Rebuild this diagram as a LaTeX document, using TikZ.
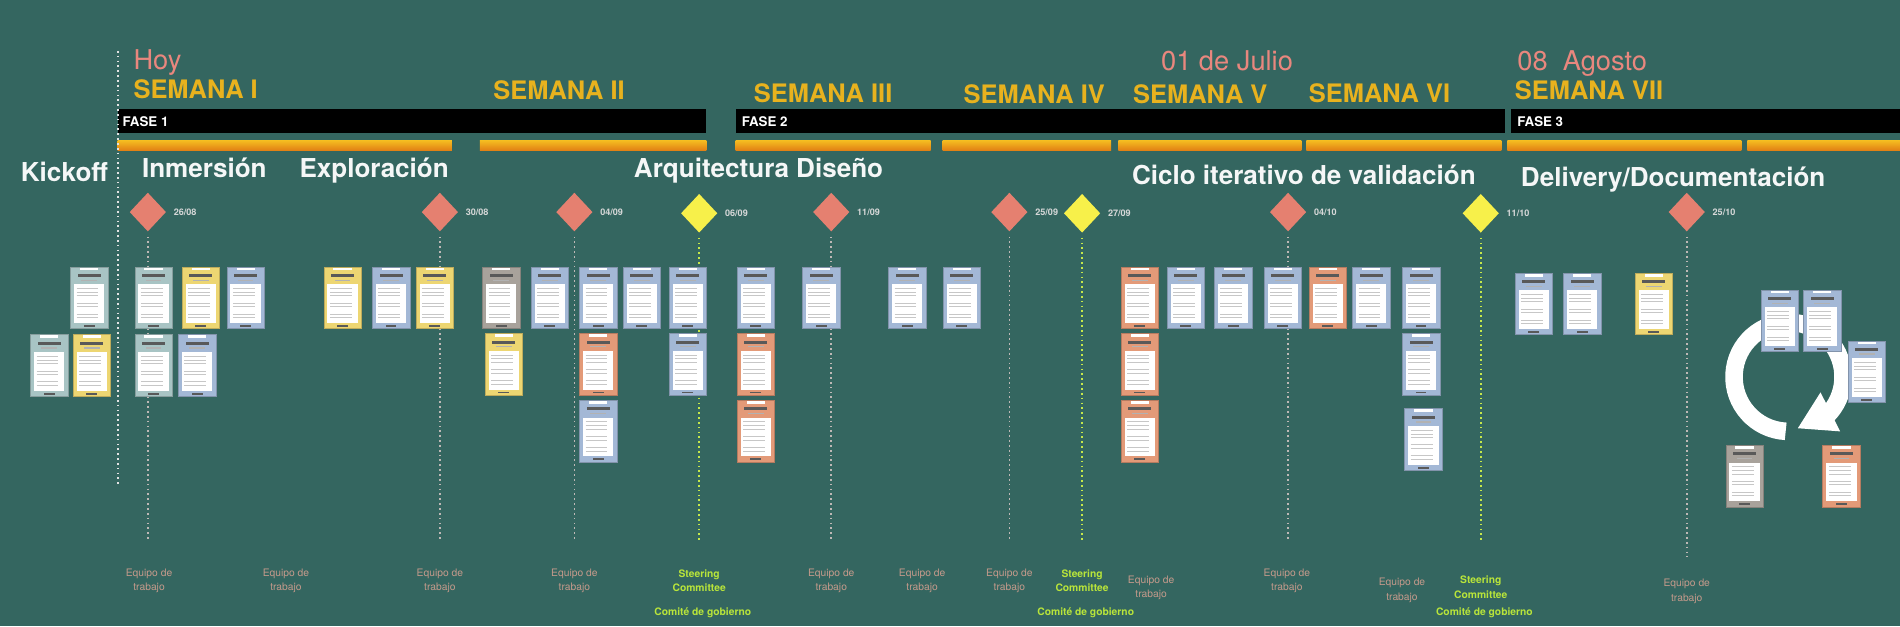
\documentclass[tikz,border=0pt]{standalone}
\usepackage{fontspec}
\setmainfont{TeX Gyre Heros}
\usetikzlibrary{shapes.geometric}

\definecolor{bgteal}{RGB}{52,102,96}
\definecolor{goldtxt}{RGB}{232,178,30}
\definecolor{goldbar}{RGB}{245,188,32}
\definecolor{orbar}{RGB}{226,128,20}
\definecolor{salmtxt}{RGB}{233,135,126}
\definecolor{salm}{RGB}{229,128,112}
\definecolor{yelm}{RGB}{247,240,74}
\definecolor{datetxt}{RGB}{214,216,216}
\definecolor{equipo}{RGB}{196,154,139}
\definecolor{steer}{RGB}{185,229,58}
\definecolor{dotgrey}{RGB}{190,184,182}
\definecolor{dotlime}{RGB}{198,232,74}
\definecolor{bluec}{RGB}{163,184,214}
\definecolor{yelc}{RGB}{237,214,114}
\definecolor{tealc}{RGB}{168,196,196}
\definecolor{salc}{RGB}{227,154,120}
\definecolor{greyc}{RGB}{168,162,155}

\begin{document}
\begin{tikzpicture}[x=1pt,y=-1pt,
    semana/.style={anchor=base west, inner sep=0, text=goldtxt, font=\bfseries\fontsize{21}{24}\selectfont},
    fecha/.style={anchor=base west, inner sep=0, text=salmtxt, font=\fontsize{22.5}{26}\selectfont},
    fase/.style={anchor=base west, inner sep=0, text=white, font=\bfseries\fontsize{11}{13}\selectfont},
    etapa/.style={anchor=base west, inner sep=0, text=white!95!bgteal, font=\bfseries\fontsize{21.5}{24}\selectfont},
    hito/.style={diamond, fill=#1, minimum width=30, minimum height=32, inner sep=0},
    hitofecha/.style={anchor=west, inner sep=0, text=datetxt, font=\bfseries\fontsize{7.5}{9}\selectfont},
    guia/.style={draw=#1, line width=1.4, dash pattern=on 1.4pt off 2.6pt},
    equipo/.style={anchor=north, align=center, inner sep=0, text=equipo, font=\fontsize{8.5}{12}\selectfont},
    steer/.style={anchor=north, align=center, inner sep=0, text=steer, font=\bfseries\fontsize{8.5}{12}\selectfont},
    card/.style={fill=#1, draw=#1!80!black, line width=0.4, minimum width=31, minimum height=51,
      inner sep=0, anchor=north west,
      path picture={
        \fill[white] ([shift={(8,0.5)}]path picture bounding box.north west) rectangle ([shift={(-8,3)}]path picture bounding box.north east);
        \fill[black!65] ([shift={(6,6)}]path picture bounding box.north west) rectangle ([shift={(-6,8.5)}]path picture bounding box.north east);
        \fill[black!30] ([shift={(9,10.5)}]path picture bounding box.north west) rectangle ([shift={(-9,11.5)}]path picture bounding box.north east);
        \fill[white] ([shift={(3,14.5)}]path picture bounding box.north west) rectangle ([shift={(-3,-4.5)}]path picture bounding box.south east);
        \foreach \ly in {18,21,24,30,33,39,42}
          \draw[black!22, line width=0.8] ([shift={(5,\ly)}]path picture bounding box.north west) -- ([shift={(-8,\ly)}]path picture bounding box.north east);
        \fill[black!65] ([shift={(11,-3)}]path picture bounding box.south west) rectangle ([shift={(-11,-1.5)}]path picture bounding box.south east);
      }}]

  \useasboundingbox (0,0) rectangle (1568,517);
  \fill[bgteal] (0,0) rectangle (1568,517);

  % fases y semanas
  \fill[black] (97,90) rectangle (583,110);
  \fill[black] (607,90) rectangle (1242,110);
  \fill[black] (1247,90) rectangle (1568,110);
  \foreach \a/\b in {97/373, 396/583, 607/768, 778/917, 923/1074, 1078/1239, 1244/1437, 1442/1568}
    \shade[top color=goldbar, bottom color=orbar] (\a,116) rectangle (\b,124);

  \node[fecha] (hoy) at (110,57) {Hoy};
  \node[fecha] (julio) at (958,58) {01 de Julio};
  \node[fecha] (agosto) at (1252,58) {08\ \ Agosto};
  \node[semana] (sem1) at (110,81.5) {SEMANA I};
  \node[semana] (sem2) at (407,82.5) {SEMANA II};
  \node[semana] (sem3) at (622,84.5) {SEMANA III};
  \node[semana] (sem4) at (795,85.5) {SEMANA IV};
  \node[semana] (sem5) at (935,85.5) {SEMANA V};
  \node[semana] (sem6) at (1080,84.5) {SEMANA VI};
  \node[semana] (sem7) at (1250,82.5) {SEMANA VII};
  \node[fase] (fase1) at (101,104) {FASE 1};
  \node[fase] (fase2) at (612,104) {FASE 2};
  \node[fase] (fase3) at (1252,104) {FASE 3};

  \node[etapa] (kick) at (17,150) {Kickoff};
  \node[etapa] (inm) at (117,146.5) {Inmersión};
  \node[etapa] (expl) at (247,146.5) {Exploración};
  \node[etapa] (arq) at (523,146.5) {Arquitectura Diseño};
  \node[etapa] (valid) at (934,152.5) {Ciclo iterativo de validación};
  \node[etapa] (deliv) at (1255,153.5) {Delivery/Documentación};

  % linea de hoy
  \coordinate (hoyA) at (97,42);
  \coordinate (hoyB) at (97,400);
  \draw[guia=white!78!gray, line width=1.7] (hoyA) -- (hoyB);

  % hitos
  \foreach \mx/\my/\mc/\gc/\ge/\dt [count=\i] in {
      122/175/salm/dotgrey/447/{26/08}, 363/175/salm/dotgrey/447/{30/08},
      474/175/salm/dotgrey/447/{04/09}, 577/176/yelm/dotlime/447/{06/09},
      686/175/salm/dotgrey/447/{11/09}, 833/175/salm/dotgrey/447/{25/09},
      893/176/yelm/dotlime/447/{27/09}, 1063/175/salm/dotgrey/447/{04/10},
      1222/176/yelm/dotlime/447/{11/10}, 1392/175/salm/dotgrey/460/{25/10}}
  {
    \node[hito=\mc] (hito\i) at (\mx,\my) {};
    \node[hitofecha] (fecha\i) at ([xshift=6]hito\i.east) {\dt};
    \coordinate (fin\i) at (\mx,\ge);
    \draw[guia=\gc] ([yshift=-4]hito\i.south) -- (fin\i);
  }

  % ciclo
  \coordinate (giro) at (1476,311);
  \coordinate (punta) at (1483.7,353.4);
  \coordinate (alaA) at (1502.4,323.8);
  \coordinate (alaB) at (1518.6,356);
  \draw[white, line width=14.5] ([shift={(93:45)}]giro) arc[start angle=93, end angle=405, radius=45];
  \fill[white] (punta) -- (alaA) -- (alaB) -- cycle;

  % tarjetas
  \foreach \cx/\cy/\cc [count=\i] in {
      58/220/tealc, 25/276/tealc, 60/276/yelc,
      111/220/tealc, 150/220/yelc, 187/220/bluec, 111/276/tealc, 147/276/bluec,
      267/220/yelc, 307/220/bluec, 343/220/yelc,
      398/220/greyc, 400/275/yelc, 438/220/bluec, 478/220/bluec, 478/275/salc, 478/330/bluec,
      514/220/bluec, 552/220/bluec, 552/275/bluec,
      608/220/bluec, 608/275/salc, 608/330/salc, 662/220/bluec, 733/220/bluec, 778/220/bluec,
      925/220/salc, 925/275/salc, 925/330/salc, 963/220/bluec, 1002/220/bluec, 1043/220/bluec,
      1080/220/salc, 1116/220/bluec, 1157/220/bluec, 1157/275/bluec, 1159/337/bluec,
      1250/225/bluec, 1290/225/bluec, 1349/225/yelc,
      1453/239/bluec, 1488/239/bluec, 1525/281/bluec, 1424/367/greyc, 1504/367/salc}
    \node[card=\cc] (card\i) at (\cx,\cy) {};

  % equipos y comites
  \foreach \ex/\ey [count=\i] in {123/469, 236/469, 363/469, 474/469, 686/469, 761/469,
      833/469, 950/475, 1062/469, 1157/477, 1392/478}
    \node[equipo] (equipo\i) at (\ex,\ey) {Equipo de\\trabajo};
  \foreach \sx/\sy [count=\i] in {577/470, 893/470, 1222/475}
  {
    \node[steer] (steer\i) at (\sx,\sy) {Steering\\Committee};
    \node[steer] (comite\i) at (\sx+3,501.5) {Comité de gobierno};
  }
\end{tikzpicture}
\end{document}
